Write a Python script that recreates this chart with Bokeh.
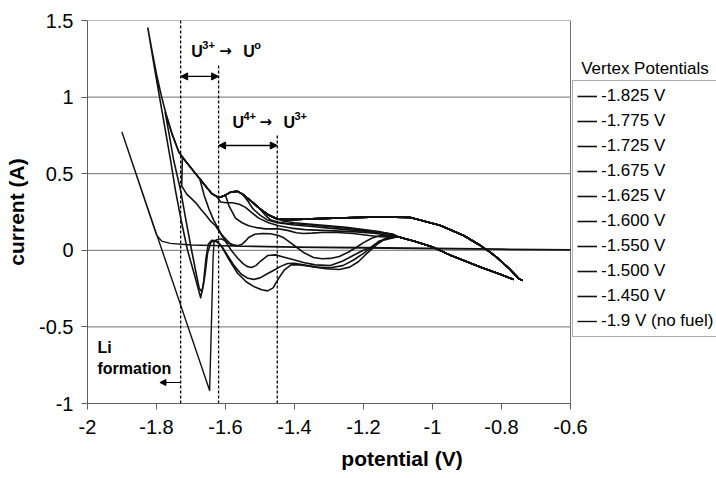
from bokeh.plotting import figure
from bokeh.models import (Range1d, Legend, LegendItem, Arrow, NormalHead,
                          FixedTicker, CustomJSTickFormatter)
from bokeh.core.properties import value
from bokeh.embed import file_html
from bokeh.resources import INLINE

# ---------------- data ----------------
x_ticks = [-2.0, -1.8, -1.6, -1.4, -1.2, -1.0, -0.8, -0.6]
y_ticks = [-1.0, -0.5, 0.0, 0.5, 1.0, 1.5]

legend_labels = ["-1.825 V", "-1.775 V", "-1.725 V", "-1.675 V", "-1.625 V",
                 "-1.600 V", "-1.550 V", "-1.500 V", "-1.450 V", "-1.9 V (no fuel)"]

vertices = [-1.825, -1.775, -1.725, -1.675, -1.625, -1.600, -1.550, -1.500, -1.450]

# common cathodic (forward) sweep, from the right turning point leftwards
fwd_x = [-0.739, -0.750, -0.759, -0.775, -0.794, -0.812, -0.832, -0.861, -0.910, -0.977,
         -1.064, -1.150, -1.250, -1.350, -1.420, -1.450, -1.475, -1.500, -1.525, -1.550,
         -1.565, -1.585, -1.605, -1.620, -1.640, -1.665, -1.690, -1.715, -1.735, -1.755,
         -1.770, -1.785, -1.800, -1.812, -1.825]
fwd_y = [-0.197, -0.185, -0.164, -0.125, -0.086, -0.050, -0.014, 0.031, 0.097, 0.162,
         0.214, 0.218, 0.212, 0.205, 0.200, 0.205, 0.230, 0.270, 0.320, 0.365,
         0.385, 0.380, 0.355, 0.345, 0.370, 0.440, 0.510, 0.580, 0.640, 0.760,
         0.870, 1.000, 1.150, 1.290, 1.450]

# anodic (return) sweeps, starting at each vertex
rev_1825_x = [-1.825, -1.805, -1.785, -1.759, -1.745, -1.728, -1.710, -1.690, -1.672, -1.664,
              -1.657, -1.650, -1.640, -1.625, -1.610, -1.590, -1.565, -1.540, -1.515, -1.495,
              -1.478, -1.462, -1.445, -1.430, -1.410, -1.385, -1.350, -1.310, -1.270, -1.240,
              -1.215, -1.190, -1.160, -1.130]
rev_1825_y = [1.450, 1.180, 0.920, 0.586, 0.390, 0.190, 0.000, -0.160, -0.310, -0.220,
              -0.060, 0.040, 0.065, 0.060, 0.020, -0.060, -0.150, -0.205, -0.240, -0.258,
              -0.265, -0.245, -0.180, -0.130, -0.095, -0.095, -0.105, -0.120, -0.125, -0.110,
              -0.075, -0.020, 0.040, 0.085]

rev_1775_x = [-1.775, -1.762, -1.750, -1.730, -1.715, -1.700, -1.686, -1.676, -1.668, -1.660,
              -1.652, -1.642, -1.628, -1.612, -1.595, -1.575, -1.555, -1.535, -1.518, -1.500,
              -1.480, -1.460, -1.440, -1.420, -1.400, -1.374, -1.340, -1.300, -1.260, -1.230,
              -1.200, -1.170, -1.140]
rev_1775_y = [0.900, 0.740, 0.586, 0.390, 0.200, 0.020, -0.140, -0.250, -0.270, -0.170,
              -0.020, 0.055, 0.060, 0.030, -0.030, -0.100, -0.155, -0.183, -0.190, -0.180,
              -0.155, -0.130, -0.105, -0.086, -0.085, -0.095, -0.110, -0.115, -0.100, -0.065,
              -0.020, 0.030, 0.075]

rev_1725_x = [-1.725, -1.727, -1.712, -1.700, -1.686, -1.672, -1.657, -1.643, -1.629, -1.614,
              -1.600, -1.590, -1.578, -1.565, -1.552, -1.540, -1.533, -1.515, -1.493, -1.470,
              -1.446, -1.430, -1.412, -1.394, -1.374, -1.345, -1.320, -1.296, -1.270, -1.246,
              -1.220, -1.200, -1.175, -1.151]
rev_1725_y = [0.610, 0.420, 0.365, 0.340, 0.310, 0.270, 0.230, 0.190, 0.160, 0.110,
              0.075, 0.050, 0.035, 0.030, 0.040, 0.065, 0.084, 0.105, 0.110, 0.108,
              0.097, 0.080, 0.050, 0.020, -0.014, -0.047, -0.055, -0.053, -0.040, -0.014,
              0.020, 0.050, 0.080, 0.097]

rev_1675_x = [-1.675, -1.662, -1.648, -1.635, -1.623, -1.610, -1.595, -1.580, -1.565, -1.550,
              -1.538, -1.525, -1.512, -1.498, -1.478, -1.455, -1.430, -1.405, -1.374, -1.340,
              -1.296, -1.260, -1.230, -1.205, -1.180, -1.155]
rev_1675_y = [0.470, 0.360, 0.270, 0.200, 0.149, 0.095, 0.040, -0.010, -0.050, -0.085,
              -0.105, -0.112, -0.100, -0.070, -0.034, -0.030, -0.045, -0.060, -0.080, -0.095,
              -0.100, -0.070, -0.034, -0.005, 0.018, 0.060]

rev_1625_x = [-1.625, -1.614, -1.598, -1.580, -1.560, -1.542, -1.523, -1.504, -1.475, -1.446,
              -1.410, -1.370, -1.320, -1.270, -1.220, -1.170, -1.130]
rev_1625_y = [0.350, 0.315, 0.310, 0.310, 0.300, 0.280, 0.245, 0.210, 0.180, 0.160,
              0.145, 0.135, 0.130, 0.125, 0.120, 0.112, 0.100]

rev_1600_x = [-1.600, -1.590, -1.571, -1.552, -1.533, -1.510, -1.484, -1.446, -1.420, -1.395,
              -1.374, -1.350, -1.320, -1.275, -1.230, -1.190, -1.151, -1.125]
rev_1600_y = [0.360, 0.290, 0.210, 0.180, 0.160, 0.148, 0.140, 0.140, 0.130, 0.115,
              0.110, 0.112, 0.116, 0.116, 0.110, 0.098, 0.088, 0.090]

rev_1550_x = [-1.550, -1.535, -1.520, -1.500, -1.480, -1.450, -1.400, -1.350, -1.300, -1.250,
              -1.200, -1.150, -1.120]
rev_1550_y = [0.365, 0.320, 0.270, 0.230, 0.200, 0.180, 0.165, 0.155, 0.145, 0.135,
              0.125, 0.115, 0.105]

rev_1500_x = [-1.500, -1.485, -1.470, -1.450, -1.420, -1.380, -1.330, -1.280, -1.230, -1.180,
              -1.140, -1.115]
rev_1500_y = [0.270, 0.230, 0.200, 0.185, 0.175, 0.170, 0.160, 0.150, 0.140, 0.125,
              0.115, 0.105]

rev_1450_x = [-1.450, -1.430, -1.400, -1.350, -1.300, -1.250, -1.200, -1.150, -1.115]
rev_1450_y = [0.205, 0.190, 0.180, 0.170, 0.160, 0.150, 0.135, 0.120, 0.105]

# common end of the return sweep, towards the right turning point
low_x = [-1.100, -1.050, -1.000, -0.950, -0.900, -0.860, -0.830, -0.800, -0.780, -0.765]
low_y = [0.088, 0.058, 0.022, -0.030, -0.075, -0.110, -0.135, -0.160, -0.178, -0.190]

# blank run (no fuel), vertex -1.9 V
nofuel_fx = [-0.600, -0.800, -1.000, -1.200, -1.400, -1.550, -1.610, -1.700, -1.760, -1.785,
             -1.800, -1.900]
nofuel_fy = [0.002, 0.006, 0.010, 0.014, 0.020, 0.026, 0.030, 0.035, 0.045, 0.060,
             0.100, 0.770]
nofuel_rx = [-1.646, -1.641, -1.636, -1.633, -1.625, -1.612, -1.600, -1.585, -1.560, -1.400,
             -1.200, -1.000, -0.800, -0.600]
nofuel_ry = [-0.915, -0.500, -0.050, 0.060, 0.070, 0.075, 0.060, 0.038, 0.028, 0.022,
             0.018, 0.014, 0.008, 0.004]

reverse_sweeps = [(rev_1825_x, rev_1825_y), (rev_1775_x, rev_1775_y), (rev_1725_x, rev_1725_y),
                  (rev_1675_x, rev_1675_y), (rev_1625_x, rev_1625_y), (rev_1600_x, rev_1600_y),
                  (rev_1550_x, rev_1550_y), (rev_1500_x, rev_1500_y), (rev_1450_x, rev_1450_y)]

# annotation positions (potentials of the marked processes)
dash_x = [-1.73, -1.62, -1.45]
dash_top = [1.5, 1.22, 0.75]

# ---------------- figure ----------------
FONT = "Liberation Sans"
x_end = -2 + 629 / 345.0   # frame spans the whole width; axis drawn only to -0.6

p = figure(width=716, height=478, x_range=Range1d(-2, x_end), y_range=Range1d(-1, 1.5),
           output_backend="svg", toolbar_location=None,
           min_border_left=87, min_border_right=0, min_border_top=20, min_border_bottom=75)
p.outline_line_color = None
p.xgrid.visible = False
p.ygrid.visible = False
p.background_fill_color = "white"
p.border_fill_color = "white"

fmt = CustomJSTickFormatter(code="var s = tick.toFixed(1); return s.replace(/\\.0$/, '');")
for ax, ticks in ((p.xaxis, x_ticks), (p.yaxis, y_ticks)):
    ax.ticker = FixedTicker(ticks=ticks)
    ax.formatter = fmt
    ax.minor_tick_line_color = None
    ax.major_tick_out = 6
    ax.major_tick_in = 0
    ax.axis_line_color = "#5e5e5e"
    ax.major_tick_line_color = "#5e5e5e"
    ax.major_label_text_font = FONT
    ax.major_label_text_font_size = "20px"
    ax.major_label_text_color = "black"
    ax.axis_label_text_font = FONT
    ax.axis_label_text_font_size = "21px"
    ax.axis_label_text_font_style = "bold"
    ax.axis_label_text_color = "black"
p.xaxis.bounds = (x_ticks[0], x_ticks[-1])
p.xaxis.axis_label = "potential (V)"
p.yaxis.axis_label = "current (A)"
p.xaxis.major_label_standoff = 10
p.xaxis.axis_label_standoff = 10
p.yaxis.major_label_standoff = 8
p.yaxis.axis_label_standoff = 8

# horizontal gridlines and right border, limited to the axis span
p.segment(x0=[x_ticks[0]] * len(y_ticks), x1=[x_ticks[-1]] * len(y_ticks),
          y0=y_ticks, y1=y_ticks, line_color="#707070", line_width=1)
p.segment(x0=[x_ticks[-1]], x1=[x_ticks[-1]], y0=[y_ticks[0]], y1=[y_ticks[-1]],
          line_color="#707070", line_width=1)

# dashed markers
p.segment(x0=dash_x, x1=dash_x, y0=[y_ticks[0]] * 3, y1=dash_top,
          line_color="black", line_width=1.3, line_dash="3 2")

# curves
LINE = "#121212"
renderers = []
for v, (rx, ry) in zip(vertices, reverse_sweeps):
    xs = [x for x in fwd_x if x > v] + rx + low_x
    ys = [y for x, y in zip(fwd_x, fwd_y) if x > v] + ry + low_y
    renderers.append(p.line(xs, ys, line_color=LINE, line_width=1.6, line_join="round"))
renderers.append(p.line(nofuel_fx + nofuel_rx, nofuel_fy + nofuel_ry,
                        line_color=LINE, line_width=1.4, line_join="round"))

# arrows
for xs_, xe_, yy in ((-1.73, -1.62, 1.135), (-1.62, -1.45, 0.684)):
    p.add_layout(Arrow(x_start=xs_, x_end=xe_, y_start=yy, y_end=yy, line_width=1.4,
                       start=NormalHead(size=7, fill_color="black", line_color="black"),
                       end=NormalHead(size=7, fill_color="black", line_color="black")))
p.add_layout(Arrow(x_start=-1.73, x_end=-1.79, y_start=-0.863, y_end=-0.863, line_width=1.2,
                   end=NormalHead(size=6, fill_color="black", line_color="black")))


# annotation texts built from pieces (main text + superscripts)
def text_piece(x, y, s, size, dx, dy, font=FONT):
    p.text(x=[x], y=[y], text=[s], text_font=value(font), text_font_size=size,
           text_font_style="bold", text_baseline="alphabetic", text_align="left",
           text_color="black", x_offset=dx, y_offset=dy)


for s, size, dx, dy, f in (("U", "16px", 0, 0, FONT), ("3+", "11px", 11, -6, FONT),
                           ("\u2192", "15px", 28, 0, "DejaVu Sans"),
                           ("U", "16px", 52, 0, FONT), ("o", "11px", 63, -6, FONT)):
    text_piece(-1.699, 1.300, s, size, dx, dy, f)
for s, size, dx, dy, f in (("U", "16px", 0, 0, FONT), ("4+", "11px", 11, -6, FONT),
                           ("\u2192", "15px", 27, 0, "DejaVu Sans"),
                           ("U", "16px", 51, 0, FONT), ("3+", "11px", 62, -6, FONT)):
    text_piece(-1.580, 0.836, s, size, dx, dy, f)
text_piece(-1.971, -0.634, "Li", "16px", 0, 0)
text_piece(-1.971, -0.772, "formation", "16px", 0, 0)

p.text(x=[-0.569], y=[1.185], text=["Vertex Potentials"], text_font=value(FONT),
       text_font_size="17px", text_baseline="alphabetic", text_align="left", text_color="black")

# legend
items = [LegendItem(label=lab, renderers=[r]) for lab, r in zip(legend_labels, renderers)]
legend = Legend(items=items, location=(485, 66), padding=4, spacing=3, margin=0,
                label_height=22, glyph_height=22, glyph_width=20, label_standoff=4,
                label_text_font=FONT, label_text_font_size="17px", label_text_color="black",
                border_line_color="#5a5a5a", border_line_width=1,
                background_fill_color="white", background_fill_alpha=1.0)
p.add_layout(legend)

open("out.html", "w").write(file_html(p, INLINE))
